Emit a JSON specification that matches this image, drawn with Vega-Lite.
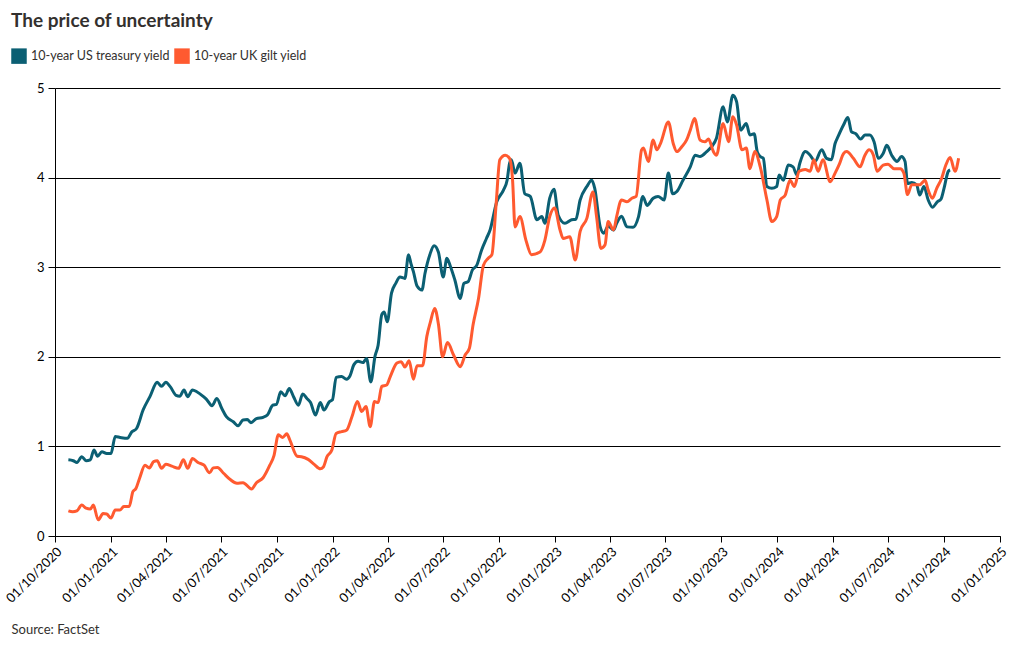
{
  "$schema": "https://vega.github.io/schema/vega-lite/v6.json",
  "width": 945,
  "height": 448,
  "autosize": {"type": "none"},
  "padding": {"left": 55, "top": 88, "right": 20, "bottom": 114},
  "background": "white",
  "title": {"text": "The price of uncertainty", "anchor": "start", "frame": "group", "dx": -44, "offset": 17, "fontSize": 19, "font": "Lato", "fontWeight": "bold", "color": "#33302e"},
  "config": {"view": {"stroke": null}, "font": "Lato"},
  "data": {"values": [
    {"date":"2020-10-23","series":"US","value":0.85},{"date":"2020-10-31","series":"US","value":0.84},{"date":"2020-11-06","series":"US","value":0.82},{"date":"2020-11-14","series":"US","value":0.885},{"date":"2020-11-21","series":"US","value":0.84},{"date":"2020-11-28","series":"US","value":0.85},{"date":"2020-12-04","series":"US","value":0.96},{"date":"2020-12-10","series":"US","value":0.89},{"date":"2020-12-17","series":"US","value":0.94},{"date":"2020-12-25","series":"US","value":0.92},{"date":"2021-01-01","series":"US","value":0.92},{"date":"2021-01-08","series":"US","value":1.11},{"date":"2021-01-16","series":"US","value":1.10},{"date":"2021-01-28","series":"US","value":1.09},{"date":"2021-02-04","series":"US","value":1.16},{"date":"2021-02-12","series":"US","value":1.20},{"date":"2021-02-23","series":"US","value":1.41},{"date":"2021-03-06","series":"US","value":1.555},{"date":"2021-03-18","series":"US","value":1.715},{"date":"2021-03-25","series":"US","value":1.67},{"date":"2021-04-01","series":"US","value":1.715},{"date":"2021-04-08","series":"US","value":1.67},{"date":"2021-04-18","series":"US","value":1.57},{"date":"2021-04-24","series":"US","value":1.56},{"date":"2021-05-01","series":"US","value":1.63},{"date":"2021-05-07","series":"US","value":1.555},{"date":"2021-05-15","series":"US","value":1.63},{"date":"2021-05-22","series":"US","value":1.61},{"date":"2021-06-02","series":"US","value":1.555},{"date":"2021-06-07","series":"US","value":1.525},{"date":"2021-06-16","series":"US","value":1.455},{"date":"2021-06-24","series":"US","value":1.535},{"date":"2021-07-02","series":"US","value":1.425},{"date":"2021-07-10","series":"US","value":1.33},{"date":"2021-07-21","series":"US","value":1.275},{"date":"2021-07-29","series":"US","value":1.23},{"date":"2021-08-06","series":"US","value":1.295},{"date":"2021-08-13","series":"US","value":1.30},{"date":"2021-08-19","series":"US","value":1.265},{"date":"2021-08-28","series":"US","value":1.31},{"date":"2021-09-08","series":"US","value":1.325},{"date":"2021-09-15","series":"US","value":1.35},{"date":"2021-09-24","series":"US","value":1.46},{"date":"2021-09-30","series":"US","value":1.47},{"date":"2021-10-07","series":"US","value":1.61},{"date":"2021-10-14","series":"US","value":1.565},{"date":"2021-10-21","series":"US","value":1.645},{"date":"2021-10-28","series":"US","value":1.555},{"date":"2021-11-05","series":"US","value":1.46},{"date":"2021-11-12","series":"US","value":1.585},{"date":"2021-11-19","series":"US","value":1.535},{"date":"2021-11-25","series":"US","value":1.49},{"date":"2021-12-03","series":"US","value":1.35},{"date":"2021-12-11","series":"US","value":1.49},{"date":"2021-12-17","series":"US","value":1.405},{"date":"2021-12-26","series":"US","value":1.50},{"date":"2021-12-31","series":"US","value":1.52},{"date":"2022-01-06","series":"US","value":1.77},{"date":"2022-01-15","series":"US","value":1.78},{"date":"2022-01-23","series":"US","value":1.75},{"date":"2022-01-29","series":"US","value":1.79},{"date":"2022-02-04","series":"US","value":1.91},{"date":"2022-02-11","series":"US","value":1.95},{"date":"2022-02-19","series":"US","value":1.935},{"date":"2022-02-25","series":"US","value":1.98},{"date":"2022-03-04","series":"US","value":1.72},{"date":"2022-03-11","series":"US","value":2.01},{"date":"2022-03-16","series":"US","value":2.13},{"date":"2022-03-22","series":"US","value":2.47},{"date":"2022-03-26","series":"US","value":2.50},{"date":"2022-03-31","series":"US","value":2.39},{"date":"2022-04-07","series":"US","value":2.71},{"date":"2022-04-14","series":"US","value":2.82},{"date":"2022-04-21","series":"US","value":2.89},{"date":"2022-04-29","series":"US","value":2.875},{"date":"2022-05-05","series":"US","value":3.14},{"date":"2022-05-09","series":"US","value":3.04},{"date":"2022-05-13","series":"US","value":2.95},{"date":"2022-05-19","series":"US","value":2.79},{"date":"2022-05-27","series":"US","value":2.745},{"date":"2022-06-01","series":"US","value":2.93},{"date":"2022-06-09","series":"US","value":3.14},{"date":"2022-06-16","series":"US","value":3.24},{"date":"2022-06-23","series":"US","value":3.17},{"date":"2022-07-01","series":"US","value":2.89},{"date":"2022-07-07","series":"US","value":3.10},{"date":"2022-07-13","series":"US","value":3.005},{"date":"2022-07-20","series":"US","value":2.86},{"date":"2022-07-29","series":"US","value":2.65},{"date":"2022-08-04","series":"US","value":2.82},{"date":"2022-08-11","series":"US","value":2.84},{"date":"2022-08-18","series":"US","value":2.97},{"date":"2022-08-25","series":"US","value":3.02},{"date":"2022-09-02","series":"US","value":3.19},{"date":"2022-09-10","series":"US","value":3.32},{"date":"2022-09-16","series":"US","value":3.415},{"date":"2022-09-27","series":"US","value":3.73},{"date":"2022-10-08","series":"US","value":3.86},{"date":"2022-10-14","series":"US","value":3.97},{"date":"2022-10-18","series":"US","value":4.16},{"date":"2022-10-21","series":"US","value":4.20},{"date":"2022-10-27","series":"US","value":4.05},{"date":"2022-11-04","series":"US","value":4.16},{"date":"2022-11-12","series":"US","value":3.82},{"date":"2022-11-21","series":"US","value":3.79},{"date":"2022-12-02","series":"US","value":3.53},{"date":"2022-12-10","series":"US","value":3.565},{"date":"2022-12-15","series":"US","value":3.49},{"date":"2022-12-23","series":"US","value":3.77},{"date":"2022-12-30","series":"US","value":3.87},{"date":"2023-01-06","series":"US","value":3.58},{"date":"2023-01-17","series":"US","value":3.49},{"date":"2023-01-28","series":"US","value":3.53},{"date":"2023-02-04","series":"US","value":3.535},{"date":"2023-02-11","series":"US","value":3.75},{"date":"2023-02-22","series":"US","value":3.90},{"date":"2023-03-02","series":"US","value":3.97},{"date":"2023-03-07","series":"US","value":3.88},{"date":"2023-03-16","series":"US","value":3.45},{"date":"2023-03-22","series":"US","value":3.38},{"date":"2023-03-29","series":"US","value":3.46},{"date":"2023-04-07","series":"US","value":3.415},{"date":"2023-04-12","series":"US","value":3.49},{"date":"2023-04-20","series":"US","value":3.57},{"date":"2023-04-29","series":"US","value":3.45},{"date":"2023-05-09","series":"US","value":3.445},{"date":"2023-05-18","series":"US","value":3.565},{"date":"2023-05-25","series":"US","value":3.79},{"date":"2023-06-01","series":"US","value":3.69},{"date":"2023-06-11","series":"US","value":3.77},{"date":"2023-06-19","series":"US","value":3.79},{"date":"2023-06-29","series":"US","value":3.75},{"date":"2023-07-06","series":"US","value":4.05},{"date":"2023-07-13","series":"US","value":3.82},{"date":"2023-07-20","series":"US","value":3.845},{"date":"2023-07-30","series":"US","value":3.97},{"date":"2023-08-11","series":"US","value":4.12},{"date":"2023-08-19","series":"US","value":4.25},{"date":"2023-08-27","series":"US","value":4.235},{"date":"2023-09-07","series":"US","value":4.29},{"date":"2023-09-15","series":"US","value":4.345},{"date":"2023-09-23","series":"US","value":4.44},{"date":"2023-10-04","series":"US","value":4.79},{"date":"2023-10-11","series":"US","value":4.62},{"date":"2023-10-20","series":"US","value":4.92},{"date":"2023-10-26","series":"US","value":4.85},{"date":"2023-11-02","series":"US","value":4.53},{"date":"2023-11-11","series":"US","value":4.605},{"date":"2023-11-17","series":"US","value":4.475},{"date":"2023-11-24","series":"US","value":4.49},{"date":"2023-11-29","series":"US","value":4.29},{"date":"2023-12-04","series":"US","value":4.235},{"date":"2023-12-09","series":"US","value":4.215},{"date":"2023-12-15","series":"US","value":3.90},{"date":"2023-12-23","series":"US","value":3.88},{"date":"2023-12-31","series":"US","value":3.90},{"date":"2024-01-04","series":"US","value":4.03},{"date":"2024-01-11","series":"US","value":3.97},{"date":"2024-01-19","series":"US","value":4.14},{"date":"2024-01-27","series":"US","value":4.12},{"date":"2024-02-02","series":"US","value":4.03},{"date":"2024-02-07","series":"US","value":4.16},{"date":"2024-02-16","series":"US","value":4.29},{"date":"2024-02-24","series":"US","value":4.25},{"date":"2024-03-03","series":"US","value":4.18},{"date":"2024-03-14","series":"US","value":4.31},{"date":"2024-03-22","series":"US","value":4.215},{"date":"2024-03-30","series":"US","value":4.20},{"date":"2024-04-05","series":"US","value":4.38},{"date":"2024-04-10","series":"US","value":4.46},{"date":"2024-04-19","series":"US","value":4.59},{"date":"2024-04-26","series":"US","value":4.67},{"date":"2024-05-02","series":"US","value":4.51},{"date":"2024-05-09","series":"US","value":4.49},{"date":"2024-05-17","series":"US","value":4.43},{"date":"2024-05-24","series":"US","value":4.475},{"date":"2024-06-01","series":"US","value":4.475},{"date":"2024-06-08","series":"US","value":4.40},{"date":"2024-06-15","series":"US","value":4.215},{"date":"2024-06-23","series":"US","value":4.27},{"date":"2024-06-29","series":"US","value":4.36},{"date":"2024-07-07","series":"US","value":4.25},{"date":"2024-07-16","series":"US","value":4.18},{"date":"2024-07-23","series":"US","value":4.235},{"date":"2024-07-29","series":"US","value":4.18},{"date":"2024-08-02","series":"US","value":3.935},{"date":"2024-08-09","series":"US","value":3.945},{"date":"2024-08-17","series":"US","value":3.92},{"date":"2024-08-22","series":"US","value":3.805},{"date":"2024-08-29","series":"US","value":3.90},{"date":"2024-09-05","series":"US","value":3.75},{"date":"2024-09-12","series":"US","value":3.67},{"date":"2024-09-20","series":"US","value":3.73},{"date":"2024-09-26","series":"US","value":3.76},{"date":"2024-10-01","series":"US","value":3.88},{"date":"2024-10-08","series":"US","value":4.07},{"date":"2024-10-11","series":"US","value":4.085},
    {"date":"2020-10-23","series":"UK","value":0.28},{"date":"2020-10-30","series":"UK","value":0.27},{"date":"2020-11-06","series":"UK","value":0.28},{"date":"2020-11-14","series":"UK","value":0.345},{"date":"2020-11-21","series":"UK","value":0.31},{"date":"2020-11-28","series":"UK","value":0.30},{"date":"2020-12-03","series":"UK","value":0.345},{"date":"2020-12-11","series":"UK","value":0.18},{"date":"2020-12-19","series":"UK","value":0.25},{"date":"2020-12-25","series":"UK","value":0.245},{"date":"2021-01-01","series":"UK","value":0.20},{"date":"2021-01-08","series":"UK","value":0.29},{"date":"2021-01-16","series":"UK","value":0.29},{"date":"2021-01-22","series":"UK","value":0.33},{"date":"2021-01-31","series":"UK","value":0.33},{"date":"2021-02-06","series":"UK","value":0.495},{"date":"2021-02-11","series":"UK","value":0.53},{"date":"2021-02-17","series":"UK","value":0.645},{"date":"2021-02-26","series":"UK","value":0.79},{"date":"2021-03-05","series":"UK","value":0.76},{"date":"2021-03-12","series":"UK","value":0.83},{"date":"2021-03-18","series":"UK","value":0.84},{"date":"2021-03-25","series":"UK","value":0.755},{"date":"2021-04-01","series":"UK","value":0.80},{"date":"2021-04-11","series":"UK","value":0.78},{"date":"2021-04-22","series":"UK","value":0.755},{"date":"2021-04-30","series":"UK","value":0.85},{"date":"2021-05-07","series":"UK","value":0.755},{"date":"2021-05-15","series":"UK","value":0.865},{"date":"2021-05-24","series":"UK","value":0.82},{"date":"2021-06-03","series":"UK","value":0.79},{"date":"2021-06-12","series":"UK","value":0.705},{"date":"2021-06-18","series":"UK","value":0.76},{"date":"2021-06-25","series":"UK","value":0.765},{"date":"2021-07-05","series":"UK","value":0.70},{"date":"2021-07-16","series":"UK","value":0.63},{"date":"2021-07-27","series":"UK","value":0.59},{"date":"2021-08-06","series":"UK","value":0.595},{"date":"2021-08-20","series":"UK","value":0.525},{"date":"2021-08-28","series":"UK","value":0.595},{"date":"2021-09-08","series":"UK","value":0.65},{"date":"2021-09-19","series":"UK","value":0.79},{"date":"2021-09-26","series":"UK","value":0.90},{"date":"2021-10-03","series":"UK","value":1.13},{"date":"2021-10-10","series":"UK","value":1.10},{"date":"2021-10-17","series":"UK","value":1.14},{"date":"2021-10-22","series":"UK","value":1.07},{"date":"2021-11-03","series":"UK","value":0.89},{"date":"2021-11-10","series":"UK","value":0.885},{"date":"2021-11-21","series":"UK","value":0.855},{"date":"2021-12-01","series":"UK","value":0.80},{"date":"2021-12-11","series":"UK","value":0.75},{"date":"2021-12-16","series":"UK","value":0.77},{"date":"2021-12-22","series":"UK","value":0.885},{"date":"2021-12-30","series":"UK","value":0.96},{"date":"2022-01-06","series":"UK","value":1.145},{"date":"2022-01-15","series":"UK","value":1.165},{"date":"2022-01-23","series":"UK","value":1.18},{"date":"2022-02-01","series":"UK","value":1.33},{"date":"2022-02-10","series":"UK","value":1.50},{"date":"2022-02-17","series":"UK","value":1.39},{"date":"2022-02-24","series":"UK","value":1.445},{"date":"2022-03-03","series":"UK","value":1.22},{"date":"2022-03-10","series":"UK","value":1.50},{"date":"2022-03-16","series":"UK","value":1.49},{"date":"2022-03-22","series":"UK","value":1.67},{"date":"2022-03-30","series":"UK","value":1.685},{"date":"2022-04-05","series":"UK","value":1.78},{"date":"2022-04-16","series":"UK","value":1.93},{"date":"2022-04-23","series":"UK","value":1.945},{"date":"2022-04-29","series":"UK","value":1.885},{"date":"2022-05-06","series":"UK","value":1.955},{"date":"2022-05-13","series":"UK","value":1.75},{"date":"2022-05-19","series":"UK","value":1.90},{"date":"2022-05-28","series":"UK","value":1.90},{"date":"2022-06-04","series":"UK","value":2.225},{"date":"2022-06-10","series":"UK","value":2.39},{"date":"2022-06-17","series":"UK","value":2.54},{"date":"2022-06-23","series":"UK","value":2.37},{"date":"2022-06-30","series":"UK","value":2.00},{"date":"2022-07-08","series":"UK","value":2.16},{"date":"2022-07-18","series":"UK","value":2.02},{"date":"2022-07-29","series":"UK","value":1.89},{"date":"2022-08-06","series":"UK","value":2.02},{"date":"2022-08-13","series":"UK","value":2.095},{"date":"2022-08-19","series":"UK","value":2.355},{"date":"2022-08-28","series":"UK","value":2.65},{"date":"2022-09-05","series":"UK","value":3.02},{"date":"2022-09-13","series":"UK","value":3.10},{"date":"2022-09-19","series":"UK","value":3.14},{"date":"2022-09-26","series":"UK","value":3.71},{"date":"2022-10-02","series":"UK","value":4.20},{"date":"2022-10-11","series":"UK","value":4.25},{"date":"2022-10-18","series":"UK","value":4.215},{"date":"2022-10-23","series":"UK","value":3.97},{"date":"2022-10-27","series":"UK","value":3.45},{"date":"2022-11-04","series":"UK","value":3.565},{"date":"2022-11-14","series":"UK","value":3.30},{"date":"2022-11-23","series":"UK","value":3.14},{"date":"2022-12-07","series":"UK","value":3.17},{"date":"2022-12-15","series":"UK","value":3.30},{"date":"2022-12-23","series":"UK","value":3.565},{"date":"2022-12-31","series":"UK","value":3.66},{"date":"2023-01-09","series":"UK","value":3.415},{"date":"2023-01-14","series":"UK","value":3.32},{"date":"2023-01-25","series":"UK","value":3.34},{"date":"2023-02-03","series":"UK","value":3.08},{"date":"2023-02-11","series":"UK","value":3.40},{"date":"2023-02-22","series":"UK","value":3.545},{"date":"2023-03-04","series":"UK","value":3.84},{"date":"2023-03-10","series":"UK","value":3.565},{"date":"2023-03-17","series":"UK","value":3.21},{"date":"2023-03-24","series":"UK","value":3.25},{"date":"2023-03-29","series":"UK","value":3.51},{"date":"2023-04-07","series":"UK","value":3.415},{"date":"2023-04-12","series":"UK","value":3.565},{"date":"2023-04-20","series":"UK","value":3.75},{"date":"2023-04-29","series":"UK","value":3.73},{"date":"2023-05-07","series":"UK","value":3.77},{"date":"2023-05-14","series":"UK","value":3.79},{"date":"2023-05-23","series":"UK","value":4.31},{"date":"2023-05-26","series":"UK","value":4.33},{"date":"2023-06-03","series":"UK","value":4.18},{"date":"2023-06-11","series":"UK","value":4.42},{"date":"2023-06-17","series":"UK","value":4.31},{"date":"2023-06-23","series":"UK","value":4.38},{"date":"2023-07-06","series":"UK","value":4.62},{"date":"2023-07-14","series":"UK","value":4.38},{"date":"2023-07-20","series":"UK","value":4.29},{"date":"2023-07-28","series":"UK","value":4.345},{"date":"2023-08-05","series":"UK","value":4.42},{"date":"2023-08-11","series":"UK","value":4.53},{"date":"2023-08-18","series":"UK","value":4.66},{"date":"2023-08-27","series":"UK","value":4.42},{"date":"2023-09-04","series":"UK","value":4.40},{"date":"2023-09-10","series":"UK","value":4.43},{"date":"2023-09-18","series":"UK","value":4.29},{"date":"2023-09-23","series":"UK","value":4.25},{"date":"2023-10-04","series":"UK","value":4.605},{"date":"2023-10-13","series":"UK","value":4.40},{"date":"2023-10-20","series":"UK","value":4.68},{"date":"2023-10-26","series":"UK","value":4.59},{"date":"2023-11-04","series":"UK","value":4.31},{"date":"2023-11-11","series":"UK","value":4.33},{"date":"2023-11-17","series":"UK","value":4.10},{"date":"2023-11-25","series":"UK","value":4.29},{"date":"2023-12-04","series":"UK","value":4.12},{"date":"2023-12-15","series":"UK","value":3.75},{"date":"2023-12-23","series":"UK","value":3.51},{"date":"2023-12-31","series":"UK","value":3.565},{"date":"2024-01-06","series":"UK","value":3.75},{"date":"2024-01-14","series":"UK","value":3.805},{"date":"2024-01-22","series":"UK","value":3.97},{"date":"2024-01-29","series":"UK","value":3.90},{"date":"2024-02-06","series":"UK","value":4.07},{"date":"2024-02-16","series":"UK","value":4.09},{"date":"2024-02-24","series":"UK","value":4.07},{"date":"2024-03-01","series":"UK","value":4.20},{"date":"2024-03-08","series":"UK","value":4.07},{"date":"2024-03-16","series":"UK","value":4.20},{"date":"2024-03-28","series":"UK","value":3.955},{"date":"2024-04-05","series":"UK","value":4.05},{"date":"2024-04-12","series":"UK","value":4.15},{"date":"2024-04-19","series":"UK","value":4.27},{"date":"2024-04-24","series":"UK","value":4.29},{"date":"2024-05-05","series":"UK","value":4.215},{"date":"2024-05-16","series":"UK","value":4.12},{"date":"2024-05-24","series":"UK","value":4.25},{"date":"2024-05-31","series":"UK","value":4.31},{"date":"2024-06-07","series":"UK","value":4.25},{"date":"2024-06-13","series":"UK","value":4.07},{"date":"2024-06-23","series":"UK","value":4.14},{"date":"2024-07-01","series":"UK","value":4.15},{"date":"2024-07-11","series":"UK","value":4.10},{"date":"2024-07-21","series":"UK","value":4.10},{"date":"2024-07-27","series":"UK","value":4.05},{"date":"2024-08-02","series":"UK","value":3.81},{"date":"2024-08-09","series":"UK","value":3.92},{"date":"2024-08-17","series":"UK","value":3.92},{"date":"2024-08-22","series":"UK","value":3.92},{"date":"2024-08-31","series":"UK","value":3.97},{"date":"2024-09-05","series":"UK","value":3.86},{"date":"2024-09-12","series":"UK","value":3.77},{"date":"2024-09-19","series":"UK","value":3.88},{"date":"2024-09-27","series":"UK","value":3.99},{"date":"2024-10-04","series":"UK","value":4.14},{"date":"2024-10-11","series":"UK","value":4.225},{"date":"2024-10-19","series":"UK","value":4.07},{"date":"2024-10-25","series":"UK","value":4.215}
  ]},
  "mark": {"type": "line", "strokeWidth": 3, "interpolate": "monotone"},
  "encoding": {
    "x": {
      "field": "date", "type": "temporal",
      "scale": {"type": "utc", "domain": [{"year": 2020, "month": 10, "date": 1, "utc": true}, {"year": 2025, "month": 1, "date": 1, "utc": true}]},
      "axis": {
        "values": [
          {"year": 2020, "month": 10, "date": 1, "utc": true},
          {"year": 2021, "month": 1, "date": 1, "utc": true}, {"year": 2021, "month": 4, "date": 1, "utc": true}, {"year": 2021, "month": 7, "date": 1, "utc": true}, {"year": 2021, "month": 10, "date": 1, "utc": true},
          {"year": 2022, "month": 1, "date": 1, "utc": true}, {"year": 2022, "month": 4, "date": 1, "utc": true}, {"year": 2022, "month": 7, "date": 1, "utc": true}, {"year": 2022, "month": 10, "date": 1, "utc": true},
          {"year": 2023, "month": 1, "date": 1, "utc": true}, {"year": 2023, "month": 4, "date": 1, "utc": true}, {"year": 2023, "month": 7, "date": 1, "utc": true}, {"year": 2023, "month": 10, "date": 1, "utc": true},
          {"year": 2024, "month": 1, "date": 1, "utc": true}, {"year": 2024, "month": 4, "date": 1, "utc": true}, {"year": 2024, "month": 7, "date": 1, "utc": true}, {"year": 2024, "month": 10, "date": 1, "utc": true},
          {"year": 2025, "month": 1, "date": 1, "utc": true}
        ],
        "format": "%d/%m/%Y",
        "labelAngle": -45,
        "labelFontSize": 13,
        "labelColor": "#000000",
        "labelOverlap": false,
        "labelFlush": false,
        "labelBound": false,
        "labelPadding": 3,
        "grid": false,
        "domainColor": "#000000",
        "tickColor": "#000000",
        "tickSize": 6,
        "title": "Source: FactSet",
        "titleAnchor": "start",
        "titleAlign": "left",
        "titleX": -44,
        "titleY": 87,
        "titleBaseline": "top",
        "titleFontSize": 13,
        "titleFontWeight": "normal",
        "titleColor": "#33302e"
      }
    },
    "y": {
      "field": "value", "type": "quantitative",
      "scale": {"domain": [0, 5], "nice": false},
      "axis": {
        "values": [0, 1, 2, 3, 4, 5],
        "title": null,
        "grid": true,
        "gridColor": "#000000",
        "gridOpacity": 1,
        "gridWidth": 1,
        "domainColor": "#000000",
        "tickColor": "#000000",
        "tickSize": 7,
        "labelFontSize": 13,
        "labelColor": "#000000",
        "labelPadding": 4
      }
    },
    "color": {
      "field": "series", "type": "nominal",
      "scale": {"domain": ["US", "UK"], "range": ["#0b5f73", "#ff5a30"]},
      "legend": {
        "title": null,
        "orient": "none",
        "legendX": -44,
        "legendY": -40,
        "direction": "horizontal",
        "symbolType": "square",
        "symbolSize": 240,
        "symbolStrokeWidth": 0,
        "labelFontSize": 12.5,
        "labelColor": "#33302e",
        "labelOffset": 4,
        "columnPadding": 3,
        "labelExpr": "datum.label == 'US' ? '10-year US treasury yield' : '10-year UK gilt yield'",
        "encode": {"symbols": {"update": {"fill": {"scale": "color", "field": "value"}, "fillOpacity": {"value": 1}, "strokeWidth": {"value": 0}}}}
      }
    }
  }
}
